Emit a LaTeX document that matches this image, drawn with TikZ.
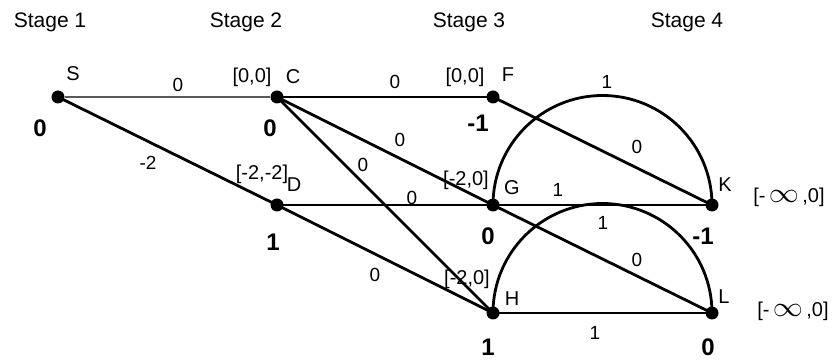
\documentclass[tikz,border=0pt]{standalone}
\usepackage{fontspec}
\setmainfont{Liberation Sans}
\newcommand{\wideinf}{\scalebox{1.45}[1.35]{$\infty$}}
\begin{document}
\begin{tikzpicture}[x=1pt,y=1pt,
  dot/.style={circle,fill=black,inner sep=0pt,minimum size=13pt},
  edge/.style={line width=2.8pt,black},
  lightedge/.style={line width=2.4pt,black!65},
  stagelbl/.style={font=\fontsize{21}{24}\selectfont,inner sep=0pt},
  let/.style={font=\fontsize{20}{23}\selectfont,inner sep=0pt},
  brk/.style={font=\fontsize{20}{23}\selectfont,inner sep=0pt},
  wt/.style={font=\fontsize{19}{22}\selectfont,inner sep=0pt},
  val/.style={font=\fontsize{24}{27}\selectfont\bfseries,inner sep=0pt}]
\useasboundingbox (0,0) rectangle (836,364);
% stage labels
\node[stagelbl] (st1) at (50,342) {Stage 1};
\node[stagelbl] (st2) at (246,342) {Stage 2};
\node[stagelbl] (st3) at (469,342) {Stage 3};
\node[stagelbl] (st4) at (687,342) {Stage 4};
% vertices
\node[dot] (S) at (58,267) {};
\node[dot] (C) at (277,267) {};
\node[dot] (F) at (493,267) {};
\node[dot] (D) at (277,159) {};
\node[dot] (G) at (493,159) {};
\node[dot] (K) at (712,159) {};
\node[dot] (H) at (493,51) {};
\node[dot] (L) at (712,51) {};
% edges
\draw[lightedge] (S) -- (C);
\draw[edge] (S.center) -- (D.center);
\draw[edge] (C.center) -- (F.center);
\draw[edge] (C.center) -- (G.center);
\draw[edge] (C.center) -- (H.center);
\draw[edge] (D.center) -- (G.center);
\draw[edge] (D.center) -- (H.center);
\draw[edge] (F.center) -- (K.center);
\draw[edge] (G.center) -- (K.center);
\draw[edge] (G.center) -- (L.center);
\draw[edge] (H.center) -- (L.center);
\draw[edge] (G.center) arc[start angle=180,end angle=0,radius=109.5];
\draw[edge] (H.center) arc[start angle=180,end angle=0,radius=109.5];
% vertex letters
\node[let] (lS) at (73,290) {S};
\node[let] (lC) at (293,287) {C};
\node[let] (lF) at (508,289) {F};
\node[let] (lD) at (294,179) {D};
\node[let] (lG) at (512,176) {G};
\node[let] (lK) at (725,179) {K};
\node[let] (lH) at (512,65) {H};
\node[let] (lL) at (724,67) {L};
% brackets
\node[brk] (bC) at (252,287) {[0,0]};
\node[brk] (bF) at (465,287) {[0,0]};
\node[brk] (bD) at (262,190) {[-2,-2]};
\node[brk] (bG) at (466,184) {[-2,0]};
\node[brk] (bH) at (467,85) {[-2,0]};
\node[brk] (bK) at (789,167) {[-\,\wideinf\,,0]};
\node[brk] (bL) at (793,53) {[-\,\wideinf\,,0]};
% bold values
\node[val] (vS) at (40,236) {0};
\node[val] (vC) at (270,236) {0};
\node[val] (vF) at (478,241) {-1};
\node[val] (vD) at (273,122) {1};
\node[val] (vG) at (488,128) {0};
\node[val] (vK) at (703,128) {-1};
\node[val] (vH) at (488,17) {1};
\node[val] (vL) at (708,17) {0};
% edge weights
\node[wt] (wSC) at (178,279) {0};
\node[wt] (wSD) at (148,201) {-2};
\node[wt] (wCF) at (395,282) {0};
\node[wt] (wCG) at (400,224) {0};
\node[wt] (wCH) at (363,199) {0};
\node[wt] (wDG) at (412,166) {0};
\node[wt] (wDH) at (375,89) {0};
\node[wt] (wGKa) at (607,282) {1};
\node[wt] (wFK) at (637,217) {0};
\node[wt] (wGK) at (558,174) {1};
\node[wt] (wHLa) at (603,141) {1};
\node[wt] (wGL) at (637,104) {0};
\node[wt] (wHL) at (595,31) {1};
\end{tikzpicture}
\end{document}
